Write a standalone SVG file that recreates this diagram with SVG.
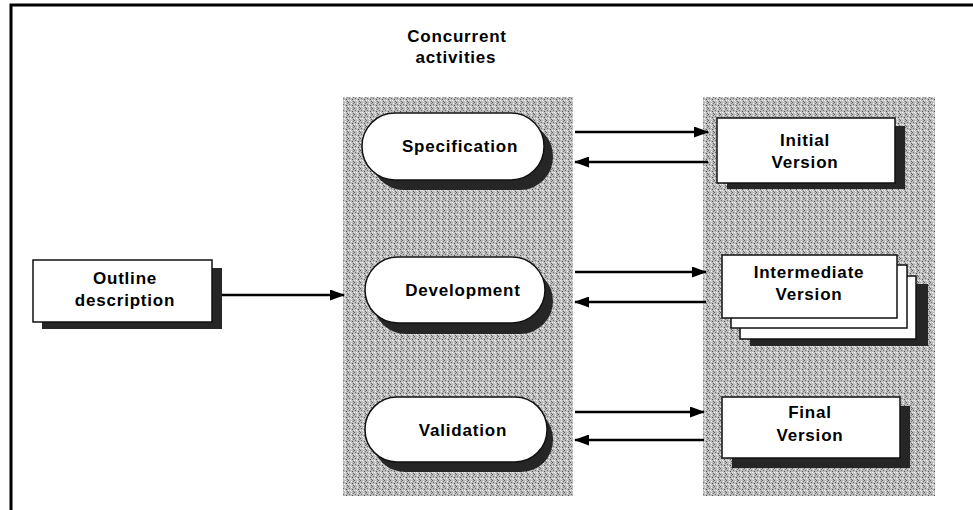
<svg xmlns="http://www.w3.org/2000/svg" width="973" height="510" viewBox="0 0 973 510">
<style>
.t{font-family:"Liberation Sans",Arial,sans-serif;font-weight:bold;font-size:17px;fill:#000;text-anchor:middle;letter-spacing:0.8px}
.box{fill:#fff;stroke:#111;stroke-width:1.5}
.sh{fill:#262626}
.panel{fill:url(#stip)}
.conn{stroke:#000;stroke-width:2.5;fill:none;marker-end:url(#ah)}
</style>
<defs>
<pattern id="stip" width="6" height="6" patternUnits="userSpaceOnUse">
<rect width="6" height="6" fill="#bcbcbc"/>
<rect x="0" y="0" width="1" height="1" fill="#5e5e5e"/>
<rect x="3" y="1" width="1" height="1" fill="#ffffff"/>
<rect x="1" y="2" width="1" height="1" fill="#707070"/>
<rect x="4" y="3" width="1" height="1" fill="#505050"/>
<rect x="2" y="4" width="1" height="1" fill="#ffffff"/>
<rect x="5" y="5" width="1" height="1" fill="#666666"/>
<rect x="0" y="4" width="1" height="1" fill="#eeeeee"/>
<rect x="5" y="1" width="1" height="1" fill="#7a7a7a"/>
<rect x="3" y="5" width="1" height="1" fill="#e6e6e6"/>
</pattern>
<marker id="ah" markerWidth="15" markerHeight="11" refX="14" refY="5.5" orient="auto" markerUnits="userSpaceOnUse">
<path d="M0,0 L15,5.5 L0,11 z" fill="#000"/>
</marker>
</defs>

<path d="M11,510 V5 H973" fill="none" stroke="#000" stroke-width="3"/>

<rect class="panel" x="343" y="97" width="230" height="399"/>
<rect class="panel" x="703" y="97" width="232" height="399"/>

<g id="label">
<text class="t" x="457" y="42">Concurrent</text>
<text class="t" x="456" y="63">activities</text>
</g>

<g id="outline">
<rect class="sh" x="42" y="268" width="180" height="61"/>
<rect class="box" x="33" y="260" width="179" height="62"/>
<text class="t" x="125" y="284">Outline</text>
<text class="t" x="125" y="306">description</text>
</g>

<g id="specification">
<rect class="sh" x="371" y="123" width="182" height="67" rx="33"/>
<rect class="box" x="362" y="113" width="182" height="67" rx="33"/>
<text class="t" x="460" y="152">Specification</text>
</g>

<g id="development">
<rect class="sh" x="373" y="268" width="180" height="66" rx="33"/>
<rect class="box" x="365" y="257" width="180" height="66" rx="33"/>
<text class="t" x="463" y="296">Development</text>
</g>

<g id="validation">
<rect class="sh" x="373" y="407" width="180" height="65" rx="32"/>
<rect class="box" x="365" y="397" width="182" height="65" rx="32"/>
<text class="t" x="463" y="436">Validation</text>
</g>

<g id="initial">
<rect class="sh" x="727" y="126" width="178" height="63"/>
<rect class="box" x="717" y="118" width="178" height="65"/>
<text class="t" x="805" y="146">Initial</text>
<text class="t" x="805" y="168">Version</text>
</g>

<g id="intermediate">
<rect class="sh" x="750" y="284" width="178" height="62"/>
<rect class="box" x="740" y="276" width="176" height="63"/>
<rect class="box" x="731" y="265" width="176" height="63"/>
<rect class="box" x="722" y="255" width="175" height="63"/>
<text class="t" x="809" y="278">Intermediate</text>
<text class="t" x="809" y="300">Version</text>
</g>

<g id="final">
<rect class="sh" x="732" y="406" width="178" height="62"/>
<rect class="box" x="722" y="397" width="178" height="61"/>
<text class="t" x="810" y="418">Final</text>
<text class="t" x="810" y="441">Version</text>
</g>

<g id="connectors">
<line class="conn" x1="222" y1="295" x2="344" y2="295"/>
<line class="conn" x1="575" y1="132" x2="708" y2="132"/>
<line class="conn" x1="708" y1="162" x2="575" y2="162"/>
<line class="conn" x1="575" y1="272" x2="706" y2="272"/>
<line class="conn" x1="706" y1="302" x2="575" y2="302"/>
<line class="conn" x1="575" y1="412" x2="704" y2="412"/>
<line class="conn" x1="704" y1="440" x2="575" y2="440"/>
</g>
</svg>
